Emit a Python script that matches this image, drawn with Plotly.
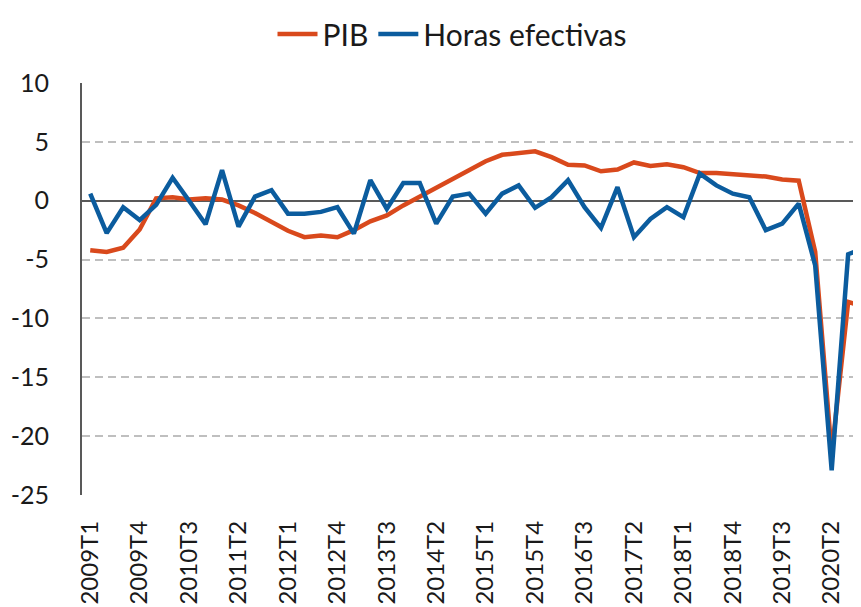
import plotly.graph_objects as go

quarters = [
    "2009T1", "2009T2", "2009T3", "2009T4",
    "2010T1", "2010T2", "2010T3", "2010T4",
    "2011T1", "2011T2", "2011T3", "2011T4",
    "2012T1", "2012T2", "2012T3", "2012T4",
    "2013T1", "2013T2", "2013T3", "2013T4",
    "2014T1", "2014T2", "2014T3", "2014T4",
    "2015T1", "2015T2", "2015T3", "2015T4",
    "2016T1", "2016T2", "2016T3", "2016T4",
    "2017T1", "2017T2", "2017T3", "2017T4",
    "2018T1", "2018T2", "2018T3", "2018T4",
    "2019T1", "2019T2", "2019T3", "2019T4",
    "2020T1", "2020T2", "2020T3", "2020T4",
]

pib = [
    -4.2, -4.35, -4.0, -2.45,
    0.2, 0.3, 0.1, 0.2,
    0.1, -0.4, -1.05, -1.8,
    -2.55, -3.1, -2.95, -3.1,
    -2.5, -1.75, -1.25, -0.4,
    0.35, 1.0, 1.85, 2.55,
    3.35, 3.9, 4.05, 4.2,
    3.7, 3.05, 3.0, 2.5,
    2.65, 3.25, 2.95, 3.1,
    2.85, 2.35, 2.35, 2.25,
    2.2, 2.05, 1.8, 1.7,
    -4.35, -21.5, -8.6, -9.0,
]

horas = [
    0.6, -2.75, -0.55, -1.65,
    -0.35, 1.95, 0.0, -2.0,
    2.6, -2.2, 0.35, 0.9,
    -1.1, -1.1, -0.95, -0.55,
    -2.8, 1.75, -0.7, 1.5,
    1.5, -1.95, 0.35, 0.6,
    -1.1, 0.6, 1.3, -0.6,
    0.3, 1.75, -0.55, -2.3,
    1.15, -3.1, -1.55, -0.55,
    -1.4, 2.3, 1.3, 0.6,
    0.3, -2.5, -1.95, -0.25,
    -5.5, -22.9, -4.55, -4.0,
]

tick_labels = quarters[0:46:3]
y_ticks = [10, 5, 0, -5, -10, -15, -20, -25]
y_tick_text = ["10", "5", "0", "-5", "-10", "-15", "-20", "-25"]

FONT = "Lato, 'Open Sans', sans-serif"
ORANGE = "#D9491C"
BLUE = "#0B5C9E"

# page body has an 8px margin: figure is sized to fit the 861x607 window
W, H = 853, 599

fig = go.Figure()
fig.add_trace(go.Scatter(x=quarters, y=pib, mode="lines", name="PIB",
                         line=dict(color=ORANGE, width=4.5)))
fig.add_trace(go.Scatter(x=quarters, y=horas, mode="lines", name="Horas efectivas",
                         line=dict(color=BLUE, width=4.5)))

fig.update_layout(
    width=W, height=H,
    margin=dict(l=74, r=0, t=75, b=112, autoexpand=False),
    paper_bgcolor="white", plot_bgcolor="white",
    font=dict(family=FONT, size=24, color="#1a1a1a"),
    showlegend=True,
    legend=dict(orientation="h", x=444 / W, xanchor="center", xref="container",
                y=1, yref="container", yanchor="top",
                font=dict(size=30, family=FONT, color="#1a1a1a"),
                itemwidth=40, bgcolor="rgba(0,0,0,0)"),
)

fig.update_xaxes(
    type="category", range=[-0.5, 46.78], automargin=False,
    tickmode="array", tickvals=tick_labels, ticktext=tick_labels,
    tickangle=-90, showgrid=False, showline=False, zeroline=False,
    ticks="", ticklabelstandoff=20,
    tickfont=dict(size=24, family=FONT, color="#1a1a1a"),
)
fig.update_yaxes(
    range=[-25, 10], tickmode="array", tickvals=y_ticks, ticktext=y_tick_text,
    automargin=False,
    showgrid=True, gridcolor="#BFBFBF", gridwidth=1.5, griddash="8px,5px",
    zeroline=True, zerolinecolor="#595959", zerolinewidth=1.8,
    showline=True, linecolor="#595959", linewidth=1.8,
    ticks="", ticklabelstandoff=26,
    tickfont=dict(size=25, family=FONT, color="#1a1a1a"),
)

fig.write_html("out.html")
